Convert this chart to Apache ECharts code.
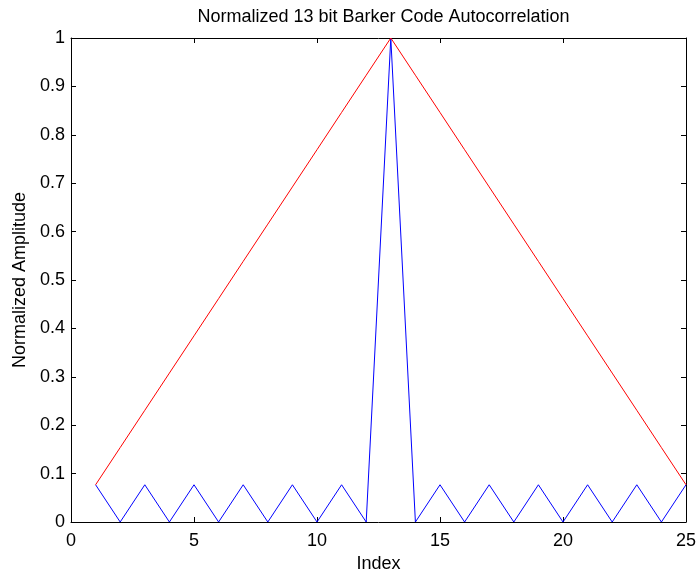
<!DOCTYPE html>
<html>
<head>
<meta charset="utf-8">
<script src="https://cdn.jsdelivr.net/npm/echarts@6/dist/echarts.min.js"></script>
<style>
  html, body { margin: 0; padding: 0; background: #fff; }
  #chart { width: 698px; height: 573px; }
</style>
</head>
<body>
<div id="chart"></div>
<script>
// Lag index of the correlation output
const lagIndex = [1, 2, 3, 4, 5, 6, 7, 8, 9, 10, 11, 12, 13,
                  14, 15, 16, 17, 18, 19, 20, 21, 22, 23, 24, 25];

// Normalized autocorrelation of the 13 bit Barker code (sidelobes 1/13)
const barkerAcf = [0.0769, 0, 0.0769, 0, 0.0769, 0, 0.0769, 0, 0.0769, 0, 0.0769, 0, 1,
                   0, 0.0769, 0, 0.0769, 0, 0.0769, 0, 0.0769, 0, 0.0769, 0, 0.0769];

// Normalized autocorrelation of an uncoded rectangular pulse of the same length
const pulseAcf = [0.0769, 0.1538, 0.2308, 0.3077, 0.3846, 0.4615, 0.5385, 0.6154, 0.6923,
                  0.7692, 0.8462, 0.9231, 1, 0.9231, 0.8462, 0.7692, 0.6923, 0.6154,
                  0.5385, 0.4615, 0.3846, 0.3077, 0.2308, 0.1538, 0.0769];

// Axis tick values
const xTicks = [0, 5, 10, 15, 20, 25];
const yTicks = [0, 0.1, 0.2, 0.3, 0.4, 0.5, 0.6, 0.7, 0.8, 0.9, 1];

const FONT = "'Liberation Sans', Arial, Helvetica, sans-serif";
const pairs = (xs, ys) => xs.map((x, i) => [x, ys[i]]);

const lineStyleAxis = { color: '#000', width: 1 };
const tickStyle = { show: true, inside: true, length: 5, lineStyle: { color: '#000', width: 1 } };

function xAxisDef(position, showLabels) {
  return {
    type: 'value',
    position: position,
    min: xTicks[0],
    max: xTicks[xTicks.length - 1],
    interval: xTicks[1] - xTicks[0],
    axisLine: { show: true, onZero: false, lineStyle: lineStyleAxis },
    axisTick: tickStyle,
    splitLine: { show: false },
    axisLabel: {
      show: showLabels, margin: 10, color: '#000', fontSize: 18, fontFamily: FONT
    }
  };
}

function yAxisDef(position, showLabels) {
  return {
    type: 'value',
    position: position,
    min: yTicks[0],
    max: yTicks[yTicks.length - 1],
    interval: 0.1,
    axisLine: { show: true, onZero: false, lineStyle: lineStyleAxis },
    axisTick: tickStyle,
    splitLine: { show: false },
    axisLabel: {
      show: showLabels, margin: 6, color: '#000', fontSize: 18, fontFamily: FONT,
      formatter: v => {
        const k = yTicks.findIndex(t => Math.abs(t - v) < 1e-9);
        return k >= 0 ? String(yTicks[k]) : '';
      }
    }
  };
}

const chart = echarts.init(document.getElementById('chart'), null, { renderer: 'canvas' });

const xBottom = xAxisDef('bottom', true);
xBottom.name = 'Index';
xBottom.nameLocation = 'middle';
xBottom.nameGap = 28;
xBottom.nameTextStyle = { color: '#000', fontSize: 18, fontFamily: FONT };

const yLeft = yAxisDef('left', true);
yLeft.name = 'Normalized Amplitude';
yLeft.nameLocation = 'middle';
yLeft.nameGap = 41;
yLeft.nameTextStyle = { color: '#000', fontSize: 18, fontFamily: FONT };

chart.setOption({
  animation: false,
  backgroundColor: '#fff',
  title: {
    text: 'Normalized 13 bit Barker Code Autocorrelation',
    left: 378.5,
    textAlign: 'center',
    top: 3,
    textStyle: { color: '#000', fontSize: 18, fontWeight: 'normal', fontFamily: FONT }
  },
  grid: {
    left: 71, right: 12, top: 38, bottom: 51,
    containLabel: false,
    outerBoundsMode: 'none'
  },
  xAxis: [xBottom, xAxisDef('top', false)],
  yAxis: [yLeft, yAxisDef('right', false)],
  series: [
    {
      name: 'Barker 13',
      type: 'line',
      xAxisIndex: 0, yAxisIndex: 0,
      data: pairs(lagIndex, barkerAcf),
      showSymbol: false,
      symbol: 'none',
      lineStyle: { color: '#0000ff', width: 1 },
      itemStyle: { color: '#0000ff' }
    },
    {
      name: 'Rectangular pulse',
      type: 'line',
      xAxisIndex: 0, yAxisIndex: 0,
      data: pairs(lagIndex, pulseAcf),
      showSymbol: false,
      symbol: 'none',
      lineStyle: { color: '#ff0000', width: 1 },
      itemStyle: { color: '#ff0000' }
    }
  ]
});
</script>
</body>
</html>
